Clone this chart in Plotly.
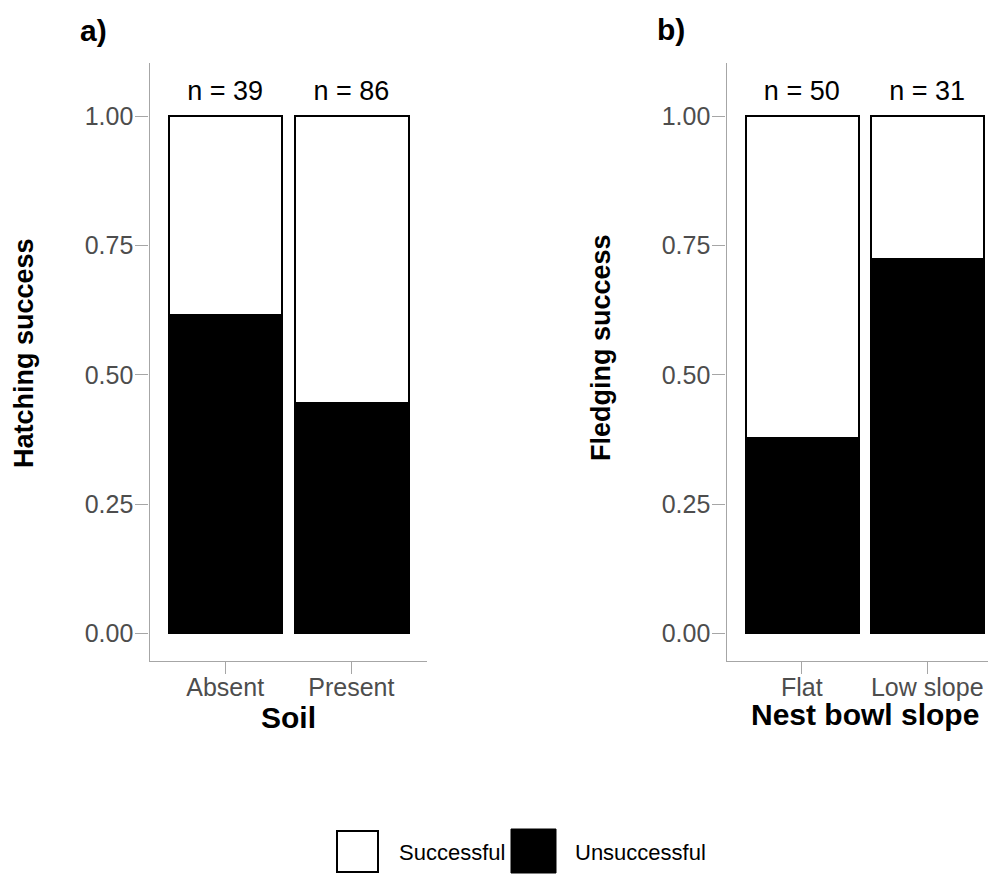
import plotly.graph_objects as go

# ---- data ----
soil_categories = ["Absent", "Present"]
hatch_unsuccessful = [0.615, 0.445]
hatch_successful = [0.385, 0.555]
hatch_n = [39, 86]

slope_categories = ["Flat", "Low slope"]
fledge_unsuccessful = [0.377, 0.724]
fledge_successful = [0.623, 0.276]
fledge_n = [50, 31]

y_ticks = [0.0, 0.25, 0.5, 0.75, 1.0]
y_ticklabels = ["0.00", "0.25", "0.50", "0.75", "1.00"]

# page has an 8px body margin; figure is sized so it fills the 996x878 window
OFF = 8
W, H = 996 - OFF, 878 - OFF
FONT = "Liberation Sans, Arial, sans-serif"
GRAY_TXT = "#4d4d4d"
AXIS_GRAY = "#a6a6a6"

def px(x):
    return (x - OFF) / W

def py(y):
    return 1 - (y - OFF) / H

fig = go.Figure()

def add_panel(cats, unsucc, succ, ns, xa, ya):
    fig.add_trace(go.Bar(x=cats, y=unsucc, name="Unsuccessful", width=0.9,
                         marker=dict(color="black", line=dict(color="black", width=2)),
                         xaxis=xa, yaxis=ya, showlegend=False))
    fig.add_trace(go.Bar(x=cats, y=succ, name="Successful", width=0.9,
                         marker=dict(color="white", line=dict(color="black", width=2)),
                         xaxis=xa, yaxis=ya, showlegend=False))
    fig.add_trace(go.Scatter(x=cats, y=[1.045] * len(cats), mode="text",
                             text=[f"n = {n}" for n in ns], textposition="middle center",
                             textfont=dict(family=FONT, size=27, color="black"),
                             xaxis=xa, yaxis=ya, showlegend=False, hoverinfo="skip"))

add_panel(soil_categories, hatch_unsuccessful, hatch_successful, hatch_n, "x", "y")
add_panel(slope_categories, fledge_unsuccessful, fledge_successful, fledge_n, "x2", "y2")

ydom = [py(660.7), py(63.3)]
xcommon = dict(showline=True, linecolor=AXIS_GRAY, linewidth=1.3, ticks="outside",
               ticklen=12, tickcolor=AXIS_GRAY, tickwidth=1.3, showgrid=False, zeroline=False,
               ticklabelstandoff=-8,
               tickfont=dict(family=FONT, size=25, color=GRAY_TXT), fixedrange=True)
ycommon = dict(showline=True, linecolor=AXIS_GRAY, linewidth=1.3, ticks="outside",
               ticklen=13, tickcolor=AXIS_GRAY, tickwidth=1.3, showgrid=False, zeroline=False,
               ticklabelstandoff=-3,
               range=[-0.0526, 1.102], tickvals=y_ticks, ticktext=y_ticklabels,
               tickfont=dict(family=FONT, size=25, color=GRAY_TXT), domain=ydom)

fig.update_layout(
    width=W, height=H, margin=dict(l=0, r=0, t=0, b=0),
    paper_bgcolor="white", plot_bgcolor="white", barmode="stack", bargap=0,
    showlegend=False,
    xaxis=dict(domain=[px(149.5), px(427)], range=[-0.6, 1.6], anchor="y", **xcommon),
    yaxis=dict(anchor="x", **ycommon),
    xaxis2=dict(domain=[px(726.5), 1.0], range=[-0.6, 1.548], anchor="y2", **xcommon),
    yaxis2=dict(anchor="x2", **ycommon),
)

annotations = [
    dict(text="<b>a)</b>", x=px(93), y=py(31), font=dict(size=30)),
    dict(text="<b>b)</b>", x=px(671), y=py(29), font=dict(size=30)),
    dict(text="<b>Hatching success</b>", x=px(24), y=py(353), textangle=-90, font=dict(size=27)),
    dict(text="<b>Fledging success</b>", x=px(601), y=py(348), textangle=-90, font=dict(size=27)),
    dict(text="<b>Soil</b>", x=px(288), y=py(717), font=dict(size=30)),
    dict(text="<b>Nest bowl slope</b>", x=px(865), y=py(714), font=dict(size=30)),
    dict(text="Successful", x=px(397), y=py(852), xanchor="left", font=dict(size=22)),
    dict(text="Unsuccessful", x=px(573), y=py(852), xanchor="left", font=dict(size=22)),
]
for a in annotations:
    a.setdefault("xanchor", "center")
    a.update(xref="paper", yref="paper", yanchor="middle", showarrow=False)
    a["font"].update(family=FONT, color="black")
fig.update_layout(annotations=annotations)

fig.add_shape(type="rect", xref="paper", yref="paper", x0=px(337), x1=px(378), y0=py(872), y1=py(831),
              fillcolor="white", line=dict(color="black", width=2))
fig.add_shape(type="rect", xref="paper", yref="paper", x0=px(511), x1=px(556), y0=py(873), y1=py(829),
              fillcolor="black", line=dict(color="black", width=1))

fig.write_html("out.html")
